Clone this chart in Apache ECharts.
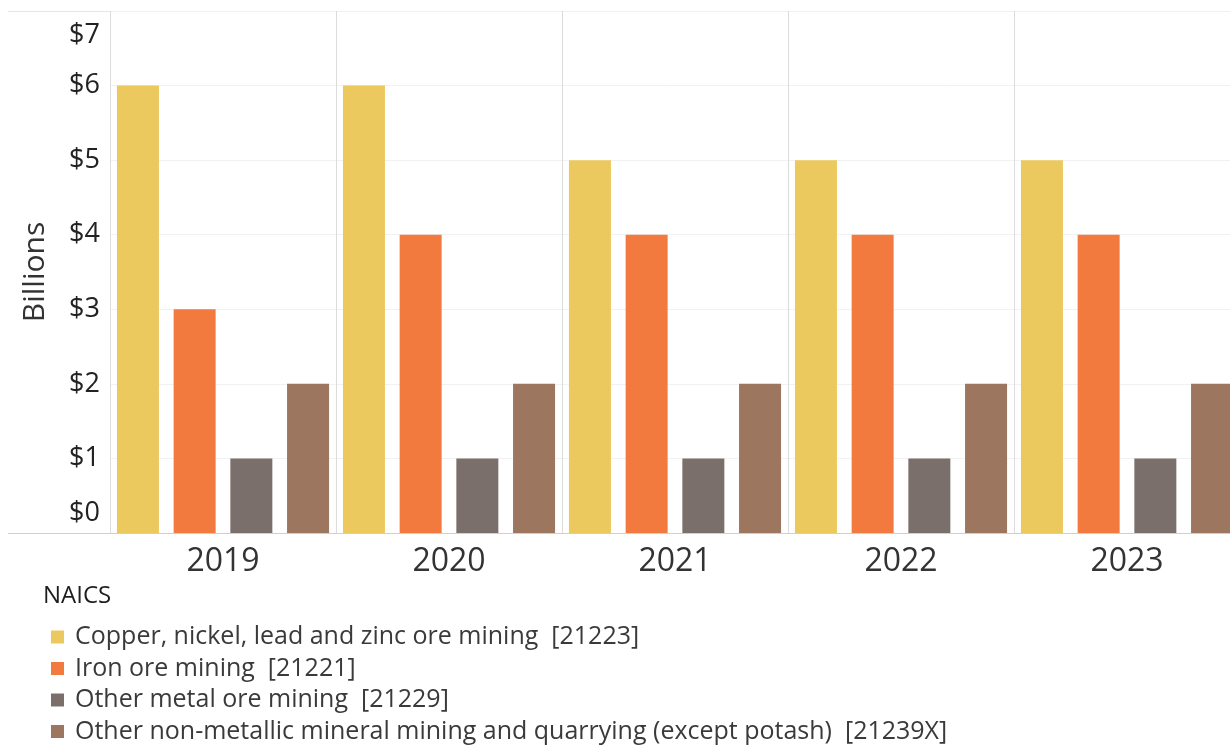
<!DOCTYPE html>
<html>
<head>
<meta charset="utf-8">
<script src="https://cdn.jsdelivr.net/npm/echarts@6/dist/echarts.min.js"></script>
<style>
  html, body { margin: 0; padding: 0; background: #fff; }
  #chart { width: 1230px; height: 752px; }
</style>
</head>
<body>
<div id="chart"></div>
<script>
// Mining revenue by NAICS industry, in billions of dollars
const years = ['2019', '2020', '2021', '2022', '2023'];
const copperNickelLeadZinc = [6, 6, 5, 5, 5];
const ironOre = [3, 4, 4, 4, 4];
const otherMetalOre = [1, 1, 1, 1, 1];
const otherNonMetallic = [2, 2, 2, 2, 2];
const seriesNames = [
  'Copper, nickel, lead and zinc ore mining  [21223]',
  'Iron ore mining  [21221]',
  'Other metal ore mining  [21229]',
  'Other non-metallic mineral mining and quarrying (except potash)  [21239X]'
];
const seriesColors = ['#ECC95F', '#F27A3F', '#7A6F6B', '#9C765E'];
const yTicks = [0, 1, 2, 3, 4, 5, 6, 7];

const FONT = '"Open Sans", "Noto Sans", sans-serif';
const chart = echarts.init(document.getElementById('chart'));

const seriesData = [copperNickelLeadZinc, ironOre, otherMetalOre, otherNonMetallic];

chart.setOption({
  animation: false,
  textStyle: { fontFamily: FONT },
  // the last year pane runs slightly past the right edge of the page
  grid: { left: 110, width: 1130, top: 11, bottom: 219, containLabel: false, outerBoundsMode: 'none' },
  title: {
    text: 'NAICS',
    left: 38, top: 579,
    textStyle: { fontFamily: FONT, fontSize: 24, fontWeight: 'normal', color: '#1e1e1e' }
  },
  legend: {
    orient: 'vertical',
    left: 46, top: 618,
    icon: 'rect',
    itemWidth: 13, itemHeight: 13,
    itemGap: 3.5,
    textStyle: { fontFamily: FONT, fontSize: 25, color: '#3a3a3a', lineHeight: 28, padding: [0, 0, 0, 6] },
    data: seriesNames
  },
  xAxis: {
    type: 'category',
    data: years,
    boundaryGap: true,
    axisLine: { show: true, lineStyle: { color: '#cfcfcf', width: 1 } },
    axisTick: { show: false },
    axisLabel: { fontFamily: FONT, fontSize: 32, color: '#333', margin: 13, interval: 0 },
    splitLine: { show: true, interval: 0, lineStyle: { color: '#dcdcdc', width: 1 } }
  },
  yAxis: {
    type: 'value',
    min: yTicks[0], max: yTicks[yTicks.length - 1], interval: 1,
    name: 'Billions',
    nameLocation: 'middle',
    nameGap: 60,
    nameTextStyle: { fontFamily: FONT, fontSize: 30, color: '#333' },
    axisLine: { show: false },
    axisTick: { show: false },
    axisLabel: {
      margin: 10,
      color: '#222',
      fontFamily: FONT,
      fontSize: 27,
      formatter: function (v) {
        if (v === yTicks[0]) return '{lo|$' + v + '}';
        if (v === yTicks[yTicks.length - 1]) return '{hi|$' + v + '}';
        return '{n|$' + v + '}';
      },
      rich: {
        n: { fontFamily: FONT, fontSize: 27, color: '#222' },
        lo: { fontFamily: FONT, fontSize: 27, color: '#222', padding: [0, 0, 40, 0] },
        hi: { fontFamily: FONT, fontSize: 27, color: '#222', padding: [48, 0, 0, 0] }
      }
    },
    splitLine: { show: true, lineStyle: { color: '#f1f1f1', width: 1 } }
  },
  graphic: [
    // frame lines running across the full width at the top and the baseline
    { type: 'line', shape: { x1: 8, y1: 11.5, x2: 1230, y2: 11.5 }, style: { stroke: '#e6e6e6', lineWidth: 1 }, z: 0 },
    { type: 'line', shape: { x1: 8, y1: 533.5, x2: 110, y2: 533.5 }, style: { stroke: '#cfcfcf', lineWidth: 1 }, z: 0 }
  ],
  series: seriesNames.map(function (name, i) {
    return {
      name: name,
      type: 'bar',
      data: seriesData[i],
      barWidth: 42,
      barGap: '35%',
      itemStyle: { color: seriesColors[i] }
    };
  })
});
</script>
</body>
</html>
